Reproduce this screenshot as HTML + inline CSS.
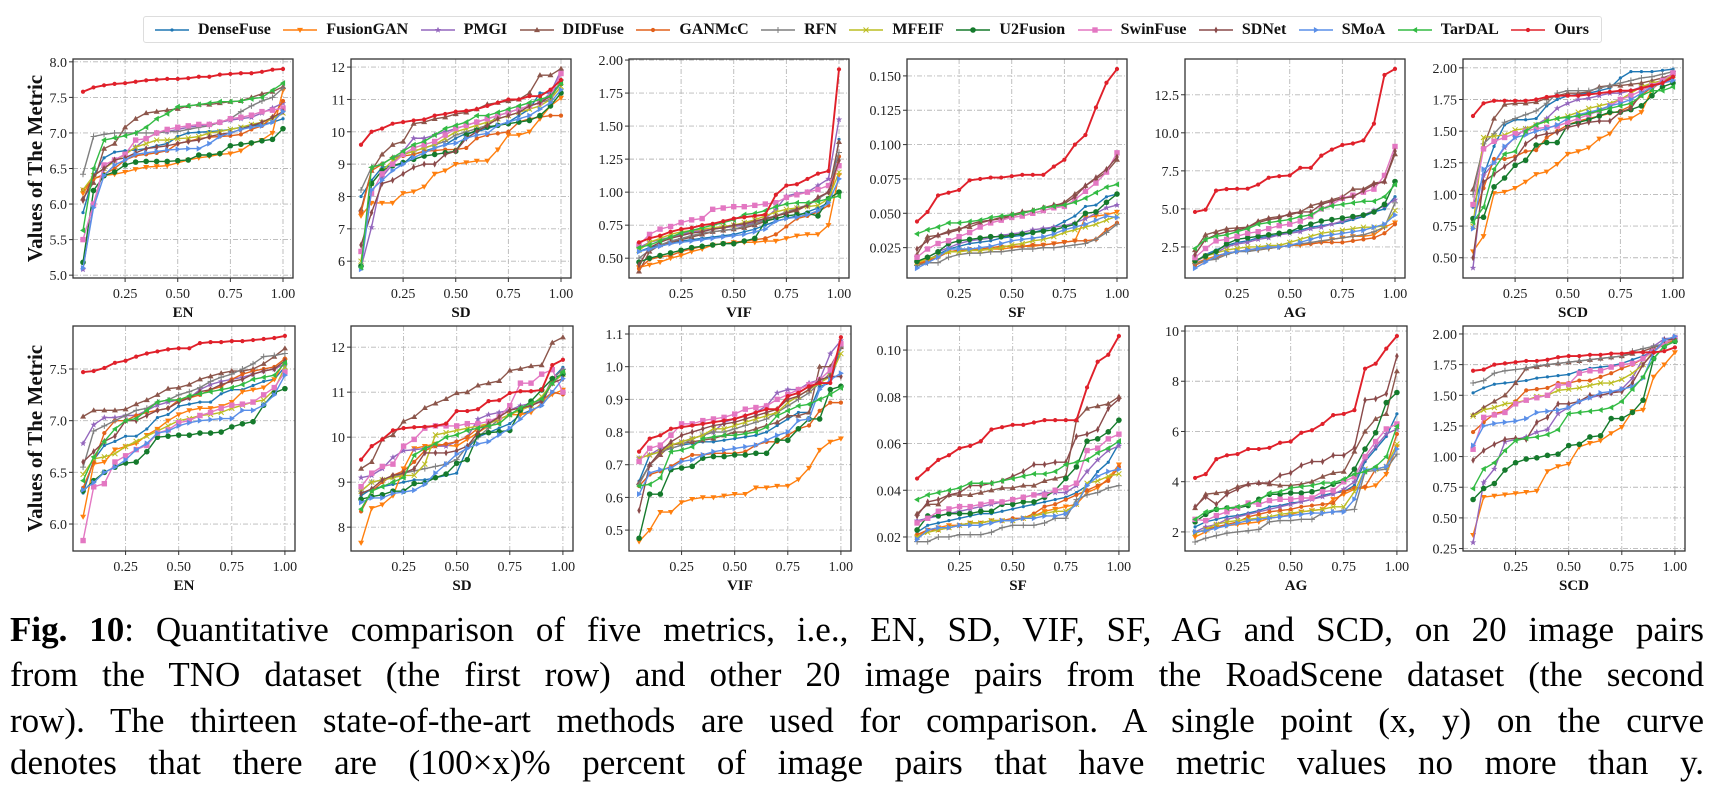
<!DOCTYPE html>
<html><head><meta charset="utf-8">
<style>
html,body{margin:0;padding:0;background:#fff;}
#wrap{position:relative;width:1714px;height:789px;overflow:hidden;background:#fff;}
svg{position:absolute;left:0;top:0;}
.legend{position:absolute;left:143px;top:16px;width:1459px;height:27px;box-sizing:border-box;border:1px solid #ddd;border-radius:3px;display:flex;align-items:center;justify-content:space-between;padding:0 12px 0 10px;font-family:"Liberation Serif",serif;font-weight:bold;font-size:16px;color:#111;}
.li{display:flex;align-items:center;gap:8px;}
.cap{position:absolute;left:10px;width:1694px;font-family:"Liberation Serif",serif;font-size:35px;color:#000;text-align:justify;text-align-last:justify;white-space:nowrap;line-height:45px;}
</style></head>
<body>
<div id="wrap">
<svg id="chart" width="1714" height="789"></svg>
<div class="legend" id="legend"></div>
<div class="cap" style="top:607px;"><b>Fig. 10</b>: Quantitative comparison of five metrics, i.e., EN, SD, VIF, SF, AG and SCD, on 20 image pairs</div>
<div class="cap" style="top:652px;">from the TNO dataset (the first row) and other 20 image pairs from the RoadScene dataset (the second</div>
<div class="cap" style="top:698px;">row). The thirteen state-of-the-art methods are used for comparison. A single point (x, y) on the curve</div>
<div class="cap" style="top:740px;">denotes that there are (100×x)% percent of image pairs that have metric values no more than y.</div>
</div>
<script>
const methods=["DenseFuse","FusionGAN","PMGI","DIDFuse","GANMcC","RFN","MFEIF","U2Fusion","SwinFuse","SDNet","SMoA","TarDAL","Ours"];
const xValues=[0.05,0.10,0.15,0.20,0.25,0.30,0.35,0.40,0.45,0.50,0.55,0.60,0.65,0.70,0.75,0.80,0.85,0.90,0.95,1.00];
const xTicks=[0.25,0.50,0.75,1.00];
const xTickLabels=["0.25","0.50","0.75","1.00"];
const metricNames=["EN","SD","VIF","SF","AG","SCD"];
const yLimits=[[[4.96,8.04],[5.48,12.25],[0.35,2.008],[0.0029,0.1623],[0.46,14.85],[0.34,2.07]],
[[5.739,7.916],[7.47,12.47],[0.436,1.1245],[0.0140,0.1103],[1.24,10.2],[0.23,2.065]]];
const yTicks=[[[5.0,5.5,6.0,6.5,7.0,7.5,8.0],[6,7,8,9,10,11,12],[0.5,0.75,1.0,1.25,1.5,1.75,2.0],[0.025,0.05,0.075,0.1,0.125,0.15],[2.5,5,7.5,10,12.5],[0.5,0.75,1.0,1.25,1.5,1.75,2.0]],
[[6.0,6.5,7.0,7.5],[8,9,10,11,12],[0.5,0.6,0.7,0.8,0.9,1.0,1.1],[0.02,0.04,0.06,0.08,0.10],[2,4,6,8,10],[0.25,0.5,0.75,1.0,1.25,1.5,1.75,2.0]]];
const yTickLabels=[[["5.0","5.5","6.0","6.5","7.0","7.5","8.0"],["6","7","8","9","10","11","12"],["0.50","0.75","1.00","1.25","1.50","1.75","2.00"],["0.025","0.050","0.075","0.100","0.125","0.150"],["2.5","5.0","7.5","10.0","12.5"],["0.50","0.75","1.00","1.25","1.50","1.75","2.00"]],
[["6.0","6.5","7.0","7.5"],["8","9","10","11","12"],["0.5","0.6","0.7","0.8","0.9","1.0","1.1"],["0.02","0.04","0.06","0.08","0.10"],["2","4","6","8","10"],["0.25","0.50","0.75","1.00","1.25","1.50","1.75","2.00"]]];

const tnoEN=[
[5.88,6.40,6.65,6.73,6.75,6.76,6.78,6.82,6.85,6.95,7.00,7.01,7.02,7.03,7.05,7.08,7.10,7.12,7.15,7.20],
[6.15,6.36,6.40,6.42,6.45,6.49,6.52,6.53,6.54,6.58,6.62,6.65,6.67,6.70,6.71,6.75,6.85,6.90,7.00,7.60],
[5.08,6.00,6.50,6.62,6.70,6.80,6.92,7.00,7.02,7.05,7.08,7.10,7.12,7.15,7.18,7.20,7.22,7.28,7.35,7.42],
[6.08,6.30,6.78,6.85,7.08,7.20,7.28,7.30,7.32,7.34,7.38,7.40,7.40,7.42,7.44,7.45,7.50,7.55,7.58,7.65],
[6.20,6.35,6.42,6.50,6.62,6.68,6.70,6.72,6.75,6.85,6.88,6.92,6.94,6.95,6.96,6.98,7.05,7.10,7.22,7.45],
[6.42,6.95,6.98,7.00,7.00,7.00,7.00,7.00,7.02,7.02,7.05,7.08,7.10,7.15,7.20,7.30,7.38,7.45,7.50,7.63],
[6.20,6.40,6.50,6.60,6.70,6.80,6.85,6.90,6.90,6.92,6.93,6.95,7.00,7.02,7.05,7.08,7.12,7.15,7.20,7.28],
[5.18,6.19,6.40,6.45,6.55,6.59,6.60,6.60,6.60,6.61,6.62,6.69,6.69,6.71,6.82,6.84,6.86,6.89,6.91,7.06],
[5.50,6.00,6.55,6.62,6.70,6.90,6.92,7.00,7.05,7.08,7.10,7.12,7.12,7.15,7.20,7.22,7.25,7.30,7.32,7.35],
[6.05,6.40,6.50,6.62,6.65,6.72,6.78,6.80,6.82,6.85,6.88,6.90,6.95,6.98,7.00,7.05,7.10,7.15,7.22,7.30],
[5.10,5.95,6.40,6.55,6.62,6.70,6.72,6.74,6.76,6.77,6.78,6.78,6.85,6.95,7.00,7.05,7.08,7.10,7.15,7.30],
[5.63,6.50,6.90,6.93,6.96,7.00,7.08,7.20,7.27,7.37,7.38,7.40,7.42,7.44,7.44,7.45,7.48,7.50,7.60,7.70],
[7.58,7.64,7.67,7.69,7.70,7.72,7.74,7.75,7.76,7.76,7.77,7.79,7.79,7.82,7.83,7.84,7.84,7.86,7.89,7.90]];
const tnoSD=[
[8.0,8.5,8.9,8.95,9.0,9.3,9.4,9.5,9.6,9.8,9.95,10.0,10.1,10.2,10.3,10.5,10.7,11.2,11.2,11.5],
[7.4,7.8,7.8,7.8,8.1,8.15,8.3,8.7,8.8,9.0,9.05,9.1,9.1,9.45,9.9,9.9,10.0,10.4,10.8,11.05],
[5.8,7.05,8.6,9.0,9.4,9.8,9.8,9.9,10.0,10.1,10.2,10.3,10.4,10.5,10.6,10.7,10.8,10.9,11.2,11.9],
[7.6,8.8,9.3,9.6,9.7,10.25,10.3,10.4,10.45,10.55,10.6,10.7,10.85,10.9,10.95,11.0,11.2,11.75,11.75,11.95],
[7.5,8.8,9.0,9.2,9.25,9.3,9.4,9.42,9.45,9.45,9.5,9.8,9.9,9.95,10.0,10.3,10.4,10.45,10.5,10.5],
[8.2,8.9,9.0,9.2,9.3,9.4,9.5,9.6,9.7,9.9,10.0,10.1,10.2,10.5,10.6,10.7,10.8,10.9,11.0,11.6],
[6.0,8.4,8.8,9.1,9.3,9.4,9.5,9.6,9.8,10.0,10.1,10.2,10.3,10.4,10.5,10.6,10.7,10.8,11.0,11.4],
[5.85,8.4,8.8,8.95,9.05,9.15,9.25,9.3,9.35,9.4,9.9,10.05,10.15,10.2,10.25,10.3,10.35,10.5,10.8,11.2],
[6.3,8.1,8.7,9.0,9.3,9.5,9.6,9.7,9.9,10.1,10.2,10.3,10.4,10.5,10.6,10.7,10.8,10.9,11.1,11.8],
[6.5,7.5,8.4,8.5,8.7,8.9,9.0,9.0,9.3,9.4,9.8,10.0,10.2,10.4,10.5,10.6,10.8,10.9,11.1,11.5],
[5.75,8.2,8.5,8.8,9.0,9.2,9.35,9.5,9.6,9.65,9.8,9.9,9.95,10.2,10.3,10.4,10.5,10.7,10.9,11.3],
[5.8,8.9,9.0,9.2,9.4,9.6,9.7,9.9,10.1,10.2,10.3,10.5,10.5,10.6,10.7,10.8,10.9,11.0,11.1,11.5],
[9.6,10.0,10.1,10.25,10.3,10.35,10.38,10.5,10.55,10.62,10.65,10.7,10.8,10.9,11.0,11.0,11.1,11.1,11.3,11.6]];
const tnoVIF=[
[0.55,0.58,0.60,0.62,0.63,0.64,0.65,0.66,0.67,0.68,0.70,0.72,0.75,0.78,0.80,0.82,0.85,0.88,0.92,1.40],
[0.43,0.45,0.47,0.50,0.52,0.55,0.57,0.60,0.61,0.62,0.62,0.62,0.63,0.63,0.65,0.67,0.68,0.68,0.75,1.13],
[0.58,0.62,0.64,0.66,0.68,0.70,0.71,0.72,0.73,0.74,0.75,0.77,0.80,0.87,0.97,0.99,1.00,1.05,1.10,1.55],
[0.40,0.55,0.60,0.62,0.64,0.66,0.68,0.70,0.71,0.72,0.73,0.75,0.78,0.82,0.84,0.86,0.90,0.95,1.00,1.38],
[0.42,0.49,0.51,0.52,0.55,0.57,0.59,0.60,0.61,0.62,0.63,0.64,0.65,0.68,0.74,0.80,0.82,0.85,0.90,1.27],
[0.50,0.56,0.60,0.63,0.65,0.67,0.69,0.70,0.71,0.72,0.74,0.76,0.79,0.82,0.85,0.88,0.90,0.95,1.00,1.30],
[0.56,0.62,0.65,0.68,0.70,0.71,0.72,0.73,0.74,0.75,0.77,0.79,0.82,0.85,0.87,0.88,0.89,0.90,0.95,1.15],
[0.47,0.50,0.52,0.54,0.56,0.58,0.59,0.60,0.61,0.61,0.63,0.65,0.78,0.80,0.82,0.83,0.84,0.82,0.95,1.00],
[0.60,0.68,0.72,0.74,0.77,0.79,0.80,0.87,0.88,0.89,0.89,0.90,0.91,0.92,0.96,0.98,1.00,1.02,1.05,1.20],
[0.45,0.58,0.62,0.65,0.67,0.69,0.70,0.72,0.73,0.75,0.76,0.78,0.80,0.82,0.84,0.87,0.90,0.96,1.00,1.24],
[0.55,0.57,0.59,0.61,0.62,0.63,0.64,0.65,0.66,0.67,0.68,0.70,0.72,0.78,0.80,0.81,0.83,0.86,0.92,1.10],
[0.58,0.60,0.63,0.66,0.69,0.71,0.73,0.75,0.77,0.79,0.83,0.84,0.86,0.89,0.91,0.92,0.92,0.93,0.95,0.97],
[0.62,0.65,0.67,0.70,0.72,0.73,0.75,0.76,0.78,0.80,0.81,0.82,0.83,0.98,1.05,1.06,1.10,1.14,1.16,1.93]];
const tnoSF=[
[.012,.016,.020,.024,.026,.028,.029,.030,.032,.033,.034,.036,.038,.040,.044,.048,.055,.056,.062,.064],
[.013,.016,.018,.022,.023,.023,.023,.024,.024,.025,.026,.026,.027,.028,.029,.030,.047,.048,.049,.051],
[.014,.018,.022,.025,.028,.030,.031,.032,.034,.035,.036,.038,.039,.040,.041,.043,.046,.050,.054,.056],
[.020,.033,.034,.037,.039,.040,.043,.045,.046,.048,.050,.052,.054,.055,.058,.064,.070,.075,.080,.089],
[.013,.015,.018,.022,.023,.024,.024,.025,.026,.026,.026,.027,.027,.028,.029,.030,.030,.031,.038,.043],
[.012,.014,.014,.018,.020,.021,.021,.022,.022,.023,.024,.024,.025,.025,.026,.027,.028,.031,.036,.042],
[.014,.017,.019,.022,.022,.023,.023,.024,.025,.027,.028,.030,.031,.033,.036,.038,.040,.042,.045,.048],
[.015,.018,.022,.028,.030,.031,.032,.033,.033,.034,.035,.036,.037,.038,.040,.042,.050,.051,.058,.064],
[.018,.024,.028,.030,.033,.036,.040,.043,.045,.047,.048,.050,.052,.054,.055,.060,.066,.072,.080,.094],
[.024,.030,.034,.036,.038,.042,.044,.045,.047,.049,.051,.052,.054,.056,.057,.062,.070,.076,.082,.091],
[.010,.014,.018,.024,.024,.024,.025,.026,.028,.030,.031,.032,.033,.035,.038,.040,.042,.045,.048,.047],
[.035,.038,.040,.043,.043,.044,.045,.047,.048,.049,.050,.052,.054,.055,.056,.058,.061,.065,.069,.071],
[.044,.051,.063,.065,.067,.074,.075,.076,.076,.077,.078,.078,.078,.084,.089,.100,.107,.127,.145,.155]];
const tnoAG=[
[1.5,2.0,2.3,2.6,2.8,2.9,3.1,3.2,3.3,3.5,3.6,3.8,3.9,4.0,4.1,4.3,4.5,4.8,5.0,5.8],
[1.4,1.7,1.9,2.1,2.2,2.3,2.3,2.4,2.5,2.6,2.6,2.7,2.8,3.0,3.1,3.2,3.2,3.3,3.8,4.1],
[1.5,1.9,2.1,2.5,2.7,2.8,3.0,3.1,3.3,3.4,3.5,3.7,3.8,4.0,4.2,4.4,4.6,4.9,5.2,5.6],
[2.3,3.3,3.5,3.7,3.75,3.8,4.2,4.4,4.5,4.6,4.8,5.2,5.4,5.6,5.8,6.3,6.3,6.7,6.8,8.6],
[1.3,1.6,1.8,2.1,2.2,2.3,2.4,2.5,2.5,2.6,2.7,2.7,2.8,2.8,2.8,2.9,3.0,3.1,3.4,4.0],
[1.4,1.6,1.7,2.0,2.2,2.2,2.3,2.4,2.5,2.6,2.7,2.8,2.9,3.0,3.1,3.2,3.3,3.5,3.8,5.4],
[1.6,1.9,2.1,2.3,2.4,2.5,2.5,2.6,2.6,2.8,3.0,3.2,3.4,3.5,3.6,3.7,3.8,3.8,3.9,4.9],
[1.6,1.9,2.2,2.7,3.0,3.1,3.2,3.3,3.4,3.5,3.8,4.0,4.2,4.3,4.4,4.5,4.6,4.8,5.3,6.8],
[1.8,2.4,2.9,3.0,3.2,3.4,3.5,3.7,3.9,4.0,4.2,4.5,5.0,5.3,5.7,5.9,6.1,6.3,7.2,9.1],
[2.0,3.0,3.3,3.5,3.6,3.8,4.1,4.3,4.4,4.7,4.8,4.8,5.3,5.5,5.7,5.8,6.2,6.6,6.8,8.8],
[1.1,1.5,1.9,2.1,2.2,2.3,2.4,2.5,2.5,2.6,2.8,3.0,3.2,3.3,3.4,3.5,3.6,3.8,4.0,4.6],
[2.4,3.0,3.2,3.3,3.5,3.7,4.0,4.1,4.2,4.3,4.5,4.6,5.0,5.2,5.3,5.4,5.5,5.5,5.8,6.6],
[4.8,4.95,6.2,6.3,6.32,6.33,6.6,7.05,7.15,7.2,7.7,7.7,8.5,8.9,9.2,9.3,9.5,10.6,13.8,14.2]];
const tnoSCD=[
[0.90,1.15,1.38,1.55,1.59,1.59,1.60,1.70,1.75,1.78,1.79,1.80,1.82,1.84,1.92,1.97,1.97,1.97,1.98,1.99],
[0.55,0.67,1.01,1.02,1.05,1.10,1.16,1.18,1.24,1.32,1.34,1.37,1.44,1.48,1.59,1.60,1.65,1.83,1.90,1.93],
[0.42,1.15,1.25,1.37,1.45,1.52,1.55,1.60,1.68,1.72,1.75,1.76,1.78,1.80,1.80,1.82,1.85,1.87,1.88,1.90],
[1.04,1.38,1.60,1.71,1.72,1.72,1.73,1.76,1.78,1.80,1.80,1.81,1.85,1.86,1.86,1.87,1.88,1.90,1.92,1.95],
[0.80,1.05,1.28,1.28,1.30,1.34,1.35,1.45,1.50,1.55,1.58,1.60,1.62,1.64,1.66,1.70,1.78,1.85,1.90,1.93],
[1.00,1.40,1.48,1.57,1.60,1.63,1.66,1.72,1.80,1.82,1.82,1.82,1.84,1.86,1.88,1.90,1.92,1.93,1.95,1.97],
[0.75,1.45,1.46,1.47,1.51,1.52,1.55,1.58,1.60,1.62,1.65,1.68,1.70,1.72,1.75,1.80,1.85,1.88,1.90,1.94],
[0.81,0.82,1.06,1.13,1.23,1.27,1.39,1.41,1.41,1.55,1.57,1.59,1.62,1.65,1.65,1.67,1.70,1.78,1.85,1.88],
[0.92,1.36,1.42,1.45,1.48,1.50,1.52,1.53,1.54,1.57,1.60,1.63,1.66,1.70,1.75,1.78,1.82,1.86,1.90,1.96],
[0.50,1.10,1.16,1.22,1.28,1.40,1.46,1.48,1.49,1.53,1.55,1.57,1.58,1.58,1.65,1.68,1.80,1.85,1.88,1.92],
[0.73,1.20,1.25,1.38,1.45,1.47,1.50,1.52,1.55,1.60,1.63,1.65,1.67,1.70,1.72,1.75,1.80,1.85,1.88,1.90],
[0.78,0.90,1.20,1.32,1.34,1.50,1.55,1.58,1.60,1.61,1.62,1.64,1.66,1.68,1.70,1.72,1.78,1.82,1.82,1.85],
[1.62,1.72,1.74,1.74,1.74,1.74,1.75,1.77,1.78,1.78,1.78,1.79,1.80,1.81,1.82,1.82,1.84,1.86,1.88,1.93]];
const rsEN=[
[6.30,6.62,6.76,6.80,6.85,6.85,6.92,7.03,7.06,7.14,7.16,7.18,7.18,7.26,7.30,7.30,7.34,7.38,7.40,7.52],
[6.07,6.58,6.60,6.72,6.75,6.78,6.86,6.92,7.00,7.06,7.10,7.12,7.12,7.14,7.18,7.28,7.30,7.32,7.40,7.58],
[6.78,6.96,7.03,7.03,7.05,7.05,7.10,7.15,7.18,7.20,7.22,7.30,7.35,7.38,7.40,7.42,7.45,7.48,7.50,7.55],
[7.04,7.10,7.10,7.10,7.11,7.16,7.20,7.25,7.31,7.32,7.35,7.40,7.43,7.46,7.48,7.48,7.50,7.55,7.62,7.70],
[6.35,6.60,6.88,7.00,7.00,7.05,7.08,7.10,7.12,7.20,7.22,7.25,7.30,7.33,7.40,7.45,7.48,7.50,7.52,7.60],
[6.55,6.90,6.95,7.00,7.05,7.10,7.12,7.18,7.20,7.25,7.28,7.32,7.38,7.42,7.45,7.50,7.55,7.62,7.63,7.65],
[6.48,6.63,6.65,6.68,6.75,6.80,6.85,6.90,6.95,7.00,7.02,7.05,7.06,7.08,7.12,7.15,7.18,7.20,7.30,7.52],
[6.32,6.42,6.50,6.55,6.59,6.60,6.70,6.84,6.85,6.86,6.86,6.88,6.88,6.89,6.94,6.97,6.99,7.15,7.27,7.31],
[5.84,6.36,6.39,6.60,6.66,6.72,6.76,6.88,6.91,6.98,7.00,7.05,7.08,7.12,7.15,7.16,7.18,7.25,7.32,7.47],
[6.60,6.70,6.80,6.85,7.00,7.00,7.05,7.10,7.12,7.18,7.22,7.28,7.30,7.35,7.38,7.40,7.45,7.48,7.50,7.58],
[6.33,6.40,6.50,6.55,6.62,6.72,6.78,6.88,6.90,6.95,6.98,7.00,7.01,7.02,7.02,7.10,7.10,7.15,7.25,7.44],
[6.42,6.65,6.80,6.92,7.00,7.02,7.10,7.18,7.20,7.20,7.24,7.26,7.28,7.30,7.32,7.35,7.40,7.42,7.44,7.56],
[7.47,7.48,7.51,7.56,7.58,7.62,7.65,7.67,7.69,7.70,7.70,7.75,7.76,7.76,7.77,7.77,7.78,7.79,7.80,7.82]];
const rsSD=[
[8.7,8.85,8.9,8.95,9.0,9.05,9.05,9.1,9.15,9.2,9.75,10.0,10.1,10.2,10.3,10.5,10.6,10.7,11.3,11.55],
[7.65,8.42,8.5,8.7,9.3,9.75,9.8,9.85,9.82,9.8,9.95,10.1,10.25,10.3,10.5,10.5,10.55,10.75,10.95,11.05],
[9.1,9.15,9.3,9.55,9.7,9.72,9.75,9.8,9.8,9.9,10.0,10.4,10.5,10.55,10.6,10.7,10.75,10.8,11.3,11.5],
[9.3,9.45,9.95,10.05,10.35,10.45,10.65,10.75,10.85,10.98,11.0,11.15,11.2,11.25,11.48,11.52,11.58,11.6,12.1,12.22],
[8.35,8.8,9.0,9.15,9.25,9.45,9.7,9.8,9.85,9.9,10.0,10.2,10.3,10.4,10.5,10.6,10.7,10.8,11.0,10.95],
[8.8,9.0,9.05,9.1,9.2,9.25,9.3,9.35,9.4,9.5,9.8,10.0,10.2,10.4,10.5,10.6,10.7,10.8,11.3,11.5],
[8.8,9.0,9.05,9.1,9.15,9.15,9.4,10.05,10.1,10.15,10.2,10.25,10.3,10.4,10.5,10.6,10.7,10.9,11.2,11.4],
[8.62,8.68,8.72,8.8,8.8,8.97,8.98,9.1,9.18,9.42,9.5,10.05,10.1,10.12,10.15,10.6,10.8,11.05,11.3,11.4],
[8.9,9.2,9.35,9.4,9.8,9.95,10.2,10.25,10.25,10.25,10.3,10.3,10.35,10.45,10.7,11.2,11.2,11.4,11.5,11.0],
[8.75,8.85,9.05,9.15,9.2,9.3,9.65,9.65,9.65,9.7,9.8,10.1,10.3,10.45,10.6,10.65,10.7,10.8,11.2,11.3],
[8.55,8.65,8.65,8.75,8.78,8.82,8.95,9.2,9.4,9.62,9.75,9.85,9.9,10.05,10.2,10.4,10.6,10.7,11.0,11.3],
[8.4,8.8,8.9,9.0,9.1,9.6,9.75,9.85,10.0,10.05,10.15,10.2,10.25,10.3,10.5,10.65,10.75,10.85,11.2,11.45],
[9.5,9.8,9.95,10.15,10.2,10.22,10.23,10.25,10.3,10.58,10.58,10.62,10.8,10.82,10.98,11.02,11.02,11.05,11.6,11.72]];
const rsVIF=[
[0.65,0.73,0.74,0.75,0.76,0.765,0.77,0.77,0.775,0.78,0.785,0.79,0.80,0.82,0.84,0.86,0.86,0.94,0.95,1.06],
[0.465,0.50,0.555,0.555,0.585,0.595,0.60,0.60,0.605,0.61,0.61,0.63,0.63,0.635,0.635,0.655,0.69,0.745,0.77,0.78],
[0.72,0.73,0.75,0.76,0.77,0.78,0.79,0.80,0.83,0.84,0.85,0.86,0.88,0.92,0.93,0.93,0.95,0.96,1.04,1.08],
[0.645,0.70,0.73,0.76,0.765,0.77,0.775,0.78,0.79,0.80,0.80,0.81,0.82,0.83,0.85,0.85,0.86,1.00,1.00,1.06],
[0.635,0.67,0.68,0.695,0.715,0.73,0.73,0.735,0.735,0.735,0.74,0.76,0.77,0.77,0.79,0.81,0.82,0.865,0.89,0.89],
[0.64,0.70,0.74,0.75,0.76,0.78,0.79,0.80,0.80,0.81,0.82,0.83,0.84,0.86,0.88,0.90,0.92,0.95,0.98,1.06],
[0.72,0.73,0.74,0.76,0.77,0.78,0.79,0.81,0.81,0.82,0.83,0.84,0.85,0.86,0.89,0.91,0.93,0.95,0.97,1.04],
[0.475,0.61,0.61,0.685,0.69,0.695,0.72,0.725,0.725,0.73,0.73,0.735,0.735,0.775,0.775,0.81,0.84,0.84,0.93,0.94],
[0.71,0.75,0.76,0.79,0.825,0.825,0.835,0.84,0.845,0.855,0.87,0.875,0.88,0.90,0.915,0.93,0.945,0.96,0.99,1.07],
[0.56,0.70,0.74,0.77,0.79,0.80,0.81,0.82,0.825,0.83,0.84,0.85,0.86,0.87,0.90,0.91,0.93,0.96,0.97,0.97],
[0.61,0.675,0.685,0.69,0.71,0.715,0.73,0.74,0.745,0.75,0.755,0.76,0.775,0.79,0.80,0.835,0.84,0.93,0.96,0.98],
[0.635,0.64,0.66,0.74,0.745,0.755,0.78,0.785,0.79,0.79,0.795,0.80,0.815,0.85,0.865,0.88,0.885,0.90,0.915,0.935],
[0.74,0.78,0.79,0.81,0.815,0.82,0.825,0.83,0.835,0.84,0.85,0.86,0.87,0.87,0.91,0.92,0.94,0.95,0.95,1.09]];
const rsSF=[
[.022,.025,.026,.027,.028,.029,.030,.030,.031,.032,.033,.034,.035,.036,.037,.039,.042,.048,.052,.060],
[.020,.023,.024,.025,.025,.026,.026,.027,.027,.027,.028,.029,.031,.032,.033,.034,.039,.041,.045,.051],
[.027,.028,.029,.030,.031,.032,.033,.034,.035,.036,.037,.038,.039,.039,.039,.042,.048,.053,.057,.059],
[.030,.034,.034,.038,.038,.038,.039,.040,.041,.041,.042,.042,.044,.045,.046,.070,.075,.076,.077,.080],
[.021,.023,.023,.024,.025,.026,.026,.027,.027,.028,.028,.030,.033,.034,.036,.038,.040,.042,.044,.050],
[.018,.018,.020,.020,.021,.021,.021,.022,.024,.025,.025,.025,.026,.028,.028,.036,.038,.039,.041,.042],
[.020,.022,.023,.024,.025,.026,.026,.027,.027,.027,.028,.029,.030,.031,.031,.034,.043,.044,.046,.047],
[.023,.029,.029,.030,.030,.030,.031,.031,.034,.034,.035,.035,.037,.040,.045,.050,.061,.062,.065,.070],
[.026,.028,.031,.032,.033,.033,.034,.035,.035,.036,.037,.038,.038,.040,.041,.043,.057,.058,.062,.064],
[.029,.035,.036,.038,.039,.042,.042,.043,.044,.046,.048,.051,.051,.052,.052,.063,.064,.066,.075,.079],
[.019,.023,.024,.024,.025,.025,.025,.026,.027,.027,.028,.028,.029,.029,.030,.034,.042,.046,.048,.049],
[.036,.038,.039,.040,.041,.043,.043,.043,.044,.045,.046,.047,.047,.048,.051,.052,.053,.056,.058,.061],
[.045,.049,.053,.055,.058,.059,.061,.066,.067,.068,.068,.069,.070,.070,.070,.070,.084,.095,.098,.106]];
const rsAG=[
[2.2,2.4,2.5,2.6,2.65,2.75,2.85,3.0,3.05,3.15,3.2,3.3,3.45,3.55,3.6,3.85,4.8,5.3,5.8,6.7],
[1.8,2.0,2.2,2.25,2.3,2.35,2.4,2.55,2.6,2.7,2.8,2.85,2.9,3.3,3.5,3.7,3.75,3.85,4.3,5.4],
[2.0,2.2,2.3,2.5,2.6,2.7,2.8,2.9,3.0,3.1,3.2,3.3,3.4,3.5,3.7,4.0,4.9,5.4,5.9,6.1],
[2.95,3.5,3.55,3.6,3.8,3.9,3.95,3.9,3.85,3.85,3.9,4.0,4.2,4.35,4.4,5.2,6.0,6.5,6.7,8.4],
[1.95,2.1,2.2,2.3,2.4,2.6,2.7,2.8,2.85,2.9,3.0,3.05,3.1,3.15,3.6,3.75,3.8,4.5,4.6,5.9],
[1.6,1.75,1.85,1.95,2.0,2.05,2.1,2.4,2.45,2.45,2.5,2.5,2.75,2.8,2.85,2.9,4.4,4.45,4.5,5.1],
[1.95,2.1,2.3,2.4,2.45,2.5,2.55,2.6,2.7,2.75,2.8,2.85,2.9,3.0,3.0,3.6,4.5,4.5,4.6,5.5],
[2.4,2.7,2.9,2.95,2.95,3.05,3.3,3.5,3.5,3.55,3.55,3.6,3.7,3.9,4.0,4.5,5.3,5.95,7.15,7.55],
[2.5,2.45,2.65,2.8,2.95,3.15,3.1,3.25,3.3,3.3,3.35,3.35,3.6,3.65,4.0,4.2,5.0,5.6,6.1,6.3],
[3.0,3.4,3.1,3.5,3.7,3.9,3.95,3.95,4.25,4.35,4.65,4.8,4.8,5.05,5.05,5.35,7.25,7.3,7.5,9.0],
[2.0,2.05,2.15,2.25,2.35,2.45,2.5,2.55,2.6,2.65,2.7,2.75,2.75,2.8,2.8,3.3,4.5,4.5,4.6,5.3],
[2.5,2.8,2.9,2.95,3.0,3.1,3.25,3.55,3.6,3.75,3.8,3.85,3.95,3.95,4.1,4.3,4.4,4.6,5.0,6.2],
[4.15,4.3,4.9,5.05,5.1,5.3,5.3,5.35,5.55,5.6,5.95,6.05,6.3,6.65,6.7,6.85,8.5,8.7,9.3,9.8]];
const rsSCD=[
[1.52,1.56,1.59,1.60,1.61,1.62,1.64,1.65,1.66,1.67,1.70,1.72,1.73,1.74,1.76,1.79,1.82,1.86,1.92,1.97],
[0.36,0.67,0.68,0.69,0.70,0.71,0.72,0.88,0.92,0.94,1.08,1.11,1.13,1.19,1.24,1.37,1.38,1.65,1.75,1.85],
[0.30,0.79,0.90,1.12,1.14,1.16,1.20,1.22,1.35,1.40,1.45,1.48,1.50,1.52,1.55,1.64,1.80,1.90,1.96,1.97],
[1.34,1.40,1.45,1.50,1.60,1.72,1.73,1.75,1.76,1.77,1.78,1.79,1.80,1.81,1.82,1.84,1.86,1.89,1.92,1.95],
[1.20,1.28,1.35,1.37,1.45,1.54,1.55,1.56,1.60,1.60,1.62,1.62,1.65,1.68,1.72,1.75,1.80,1.86,1.92,1.95],
[1.60,1.62,1.68,1.70,1.71,1.72,1.74,1.75,1.76,1.77,1.78,1.79,1.80,1.81,1.82,1.86,1.88,1.90,1.92,1.96],
[1.33,1.38,1.40,1.43,1.44,1.46,1.49,1.50,1.54,1.55,1.56,1.58,1.60,1.60,1.63,1.68,1.75,1.86,1.92,1.96],
[0.65,0.74,0.78,0.89,0.95,0.98,0.99,1.01,1.02,1.09,1.10,1.16,1.17,1.31,1.31,1.36,1.46,1.80,1.90,1.94],
[1.06,1.32,1.34,1.36,1.43,1.46,1.48,1.50,1.58,1.59,1.68,1.70,1.70,1.73,1.75,1.76,1.80,1.86,1.92,1.97],
[0.97,1.05,1.10,1.14,1.15,1.14,1.28,1.32,1.43,1.43,1.45,1.50,1.50,1.52,1.53,1.60,1.75,1.85,1.95,1.96],
[1.09,1.25,1.27,1.28,1.29,1.31,1.36,1.37,1.38,1.40,1.45,1.48,1.52,1.53,1.55,1.57,1.64,1.85,1.95,1.98],
[0.74,0.90,0.95,1.05,1.13,1.15,1.16,1.18,1.22,1.35,1.36,1.37,1.38,1.40,1.45,1.55,1.65,1.80,1.90,1.94],
[1.70,1.71,1.75,1.76,1.77,1.78,1.78,1.79,1.81,1.82,1.82,1.83,1.83,1.84,1.84,1.85,1.85,1.85,1.86,1.89]];

const panels=[[tnoEN,tnoSD,tnoVIF,tnoSF,tnoAG,tnoSCD],[rsEN,rsSD,rsVIF,rsSF,rsAG,rsSCD]];

const colors=["#1f77b4","#ff7f0e","#9467bd","#8c564b","#e2611b","#7f7f7f","#bcbd22","#157a2c","#e377c2","#8a4a4a","#5a8fe8","#33bb44","#e0202a"];
const markers=["dot","tridown","star","triup","dot2","plus","x","circle","square","diamond","triright","trileft","dot2"];

const NS="http://www.w3.org/2000/svg";
const svg=document.getElementById('chart');
function mk(tag,attrs,parent){const e=document.createElementNS(NS,tag);for(const k in attrs)e.setAttribute(k,attrs[k]);(parent||svg).appendChild(e);return e;}

const lefts=[73,351,629,907,1185,1463];
const rowTop=[59,326], rowH=[219,225], colW=[220,222];
const xMin=0.0025,xMax=1.0475;

function markerEl(type,x,y,c,g){
  let e;
  const s=3;
  if(type==="dot"){e=mk('circle',{cx:x,cy:y,r:1.6,fill:c},g);}
  else if(type==="dot2"){e=mk('circle',{cx:x,cy:y,r:2.1,fill:c},g);}
  else if(type==="circle"){e=mk('circle',{cx:x,cy:y,r:2.8,fill:c},g);}
  else if(type==="square"){e=mk('rect',{x:x-2.7,y:y-2.7,width:5.4,height:5.4,fill:c},g);}
  else if(type==="triup"){e=mk('polygon',{points:`${x},${y-s} ${x-s},${y+s*0.7} ${x+s},${y+s*0.7}`,fill:c},g);}
  else if(type==="tridown"){e=mk('polygon',{points:`${x},${y+s} ${x-s},${y-s*0.7} ${x+s},${y-s*0.7}`,fill:c},g);}
  else if(type==="triright"){e=mk('polygon',{points:`${x+s},${y} ${x-s*0.7},${y-s} ${x-s*0.7},${y+s}`,fill:c},g);}
  else if(type==="trileft"){e=mk('polygon',{points:`${x-s},${y} ${x+s*0.7},${y-s} ${x+s*0.7},${y+s}`,fill:c},g);}
  else if(type==="diamond"){e=mk('polygon',{points:`${x},${y-3.5} ${x+1.8},${y} ${x},${y+3.5} ${x-1.8},${y}`,fill:c},g);}
  else if(type==="star"){e=mk('polygon',{points:`${x},${y-3.3} ${x+1},${y-1} ${x+3.2},${y-1} ${x+1.4},${y+0.5} ${x+2},${y+2.8} ${x},${y+1.4} ${x-2},${y+2.8} ${x-1.4},${y+0.5} ${x-3.2},${y-1} ${x-1},${y-1}`,fill:c},g);}
  else if(type==="plus"){e=mk('path',{d:`M${x-3},${y}H${x+3}M${x},${y-3}V${y+3}`,stroke:c,'stroke-width':1,fill:'none'},g);}
  else if(type==="x"){e=mk('path',{d:`M${x-2.5},${y-2.5}L${x+2.5},${y+2.5}M${x-2.5},${y+2.5}L${x+2.5},${y-2.5}`,stroke:c,'stroke-width':1,fill:'none'},g);}
  return e;
}

for(let r=0;r<2;r++){
  for(let c=0;c<6;c++){
    const L=lefts[c],T=rowTop[r],W=colW[r],H=rowH[r];
    const [y0,y1]=yLimits[r][c];
    const sx=v=>L+(v-xMin)/(xMax-xMin)*W;
    const sy=v=>T+H-(v-y0)/(y1-y0)*H;
    const g=mk('g',{});
    
    
    xTicks.forEach((t,i)=>{
      const x=sx(t);
      const gl=mk('line',{x1:x,x2:x,y1:T,y2:T+H,stroke:'#b8b8b8','stroke-width':0.9,'stroke-dasharray':'5 2 1 2'},g);
      
      
      mk('line',{x1:x,x2:x,y1:T+H,y2:T+H+4,stroke:'#333','stroke-width':1},g);
      const tx=mk('text',{x:x,y:T+H+20,'text-anchor':'middle','font-family':'Liberation Serif, serif','font-size':14,fill:'#222'},g);
      tx.textContent=xTickLabels[i];
      
      
    });
    yTicks[r][c].forEach((t,i)=>{
      const y=sy(t);
      const gl=mk('line',{x1:L,x2:L+W,y1:y,y2:y,stroke:'#b8b8b8','stroke-width':0.9,'stroke-dasharray':'5 2 1 2'},g);
      
      
      mk('line',{x1:L-4,x2:L,y1:y,y2:y,stroke:'#333','stroke-width':1},g);
      const tx=mk('text',{x:L-6,y:y+5,'text-anchor':'end','font-family':'Liberation Serif, serif','font-size':14,fill:'#222'},g);
      tx.textContent=yTickLabels[r][c][i];
      
      
    });
    const data=panels[r][c];
    data.forEach((vals,si)=>{
      const sg=mk('g',{},g);
      
      
      const pts=vals.map((v,k)=>sx(xValues[k]).toFixed(2)+','+sy(v).toFixed(2)).join(' ');
      const pl=mk('polyline',{points:pts,fill:'none',stroke:colors[si],'stroke-width':si===12?1.9:1.4,'stroke-linejoin':'round'},sg);
      
      
      vals.forEach((v,k)=>{
        const m=markerEl(markers[si],sx(xValues[k]),sy(v),colors[si],sg);
        
        
      });
    });
    const box=mk('rect',{x:L,y:T,width:W,height:H,fill:'none',stroke:'#333','stroke-width':1.3},g);
    
    
    const xl=mk('text',{x:L+W/2,y:T+H+39,'text-anchor':'middle','font-family':'Liberation Serif, serif','font-size':15,'font-weight':'bold',fill:'#111'},g);
    xl.textContent=metricNames[c];
    
    
    if(c===0){
      const cy=T+H/2;
      const yl=mk('text',{x:0,y:0,transform:`translate(42,${cy}) rotate(-90)`,'text-anchor':'middle','font-family':'Liberation Serif, serif','font-size':21,'font-weight':'bold',fill:'#111'},g);
      yl.textContent='Values of The Metric';
      
      
    }
  }
}

const leg=document.getElementById('legend');
methods.forEach((m,i)=>{
  const it=document.createElement('div');
  it.className='li';
  
  
  const hs=document.createElementNS(NS,'svg');
  hs.setAttribute('width','36');hs.setAttribute('height','12');
  hs.style.position='static';
  const ln=document.createElementNS(NS,'line');
  ln.setAttribute('x1','1');ln.setAttribute('x2','35');ln.setAttribute('y1','6');ln.setAttribute('y2','6');
  ln.setAttribute('stroke',colors[i]);ln.setAttribute('stroke-width','1.6');
  hs.appendChild(ln);
  markerEl(markers[i],18,6,colors[i],hs);
  it.appendChild(hs);
  const sp=document.createElement('span');
  sp.textContent=m;
  it.appendChild(sp);
  leg.appendChild(it);
});
</script>
</body></html>
